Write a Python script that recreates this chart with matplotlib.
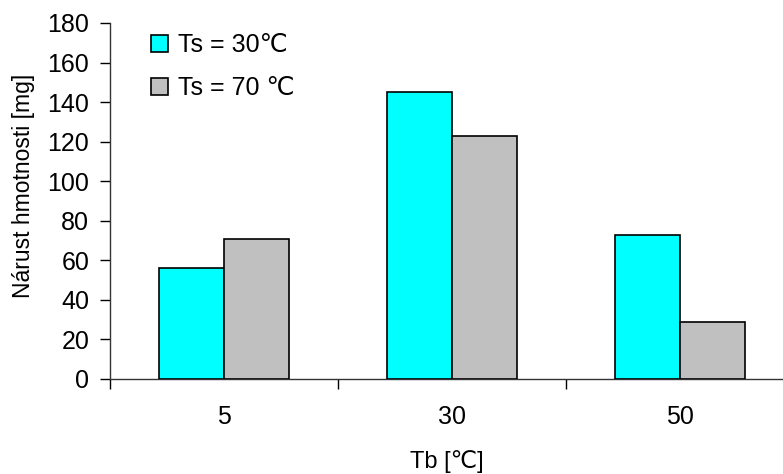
import matplotlib
matplotlib.use('Agg')
import matplotlib.pyplot as plt
import numpy as np

plt.rcParams['font.family'] = ['Liberation Sans', 'DejaVu Sans']

# === Data ===
categories = ['5', '30', '50']
ts_30 = [56, 145, 73]
ts_70 = [71, 123, 29]
series_labels = ['Ts = 30℃', 'Ts = 70 ℃']
colors = ['#00FFFF', '#C0C0C0']

FS = 18

# === Figure ===
fig = plt.figure(figsize=(7.83, 4.74), dpi=100)
ax = fig.add_axes([110 / 783, 95 / 474, 673 / 783, 356 / 474])

x = np.arange(len(categories))
w = 0.283
ax.bar(x - w / 2, ts_30, width=w, color=colors[0], edgecolor='black',
       linewidth=1.2, label=series_labels[0], zorder=3)
ax.bar(x + w / 2, ts_70, width=w, color=colors[1], edgecolor='black',
       linewidth=1.2, label=series_labels[1], zorder=3)

ax.set_ylim(0, 180)
ax.set_yticks(np.arange(0, 181, 20))
ax.set_xlim(-0.5, -0.5 + 673 / 228)

# boundary ticks (major) without labels, category labels as minor
ax.set_xticks([-0.5, 0.5, 1.5])
ax.set_xticklabels([])
ax.set_xticks(x, minor=True)
ax.set_xticklabels(categories, minor=True)
ax.tick_params(axis='x', which='major', direction='out', length=7, width=1)
ax.tick_params(axis='x', which='minor', length=0, pad=19, labelsize=FS)
ax.tick_params(axis='y', direction='out', length=7, width=1, labelsize=FS, pad=8)

for side in ['top', 'right']:
    ax.spines[side].set_visible(False)
for side in ['left', 'bottom']:
    ax.spines[side].set_linewidth(1)
    ax.spines[side].set_color('#333333')

ax.set_xlabel('Tb [℃]', fontsize=17, labelpad=15)
ax.set_ylabel('Nárust hmotnosti [mg]', fontsize=16.5)
ax.yaxis.set_label_coords(-0.112, 0.542)

ax.legend(loc='upper left', bbox_to_anchor=(0.046, 0.999), frameon=False,
          fontsize=FS, handlelength=0.7, handleheight=0.7,
          handletextpad=0.4, labelspacing=0.75, borderaxespad=0.0)

fig.savefig('out.png', dpi=100)
